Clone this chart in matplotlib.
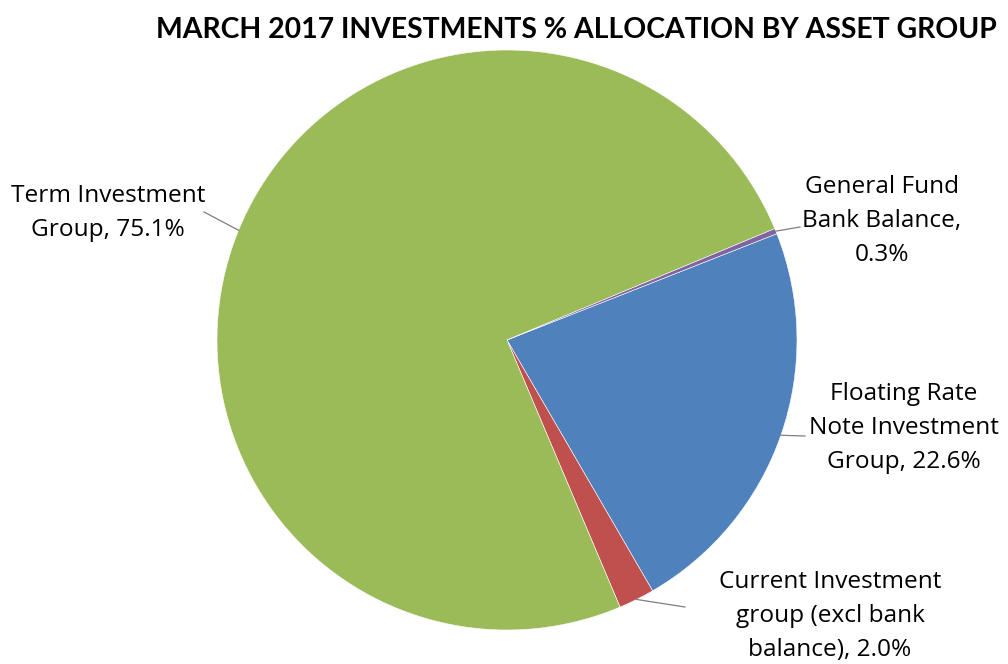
import numpy as np
import matplotlib.pyplot as plt

plt.rcParams['font.family'] = ['Open Sans', 'DejaVu Sans']

# slice order runs clockwise from the start angle
labels = ["Floating Rate\nNote Investment\nGroup, 22.6%",
          "Current Investment\ngroup (excl bank\nbalance), 2.0%",
          "Term Investment\nGroup, 75.1%",
          "General Fund\nBank Balance,\n0.3%"]
shares = [22.6, 2.0, 75.1, 0.3]
colors = ["#4F81BD", "#C0504D", "#9BBB59", "#8064A2"]

# label centres and leader-line ends (figure pixels, y measured from the top)
label_xy = [(904, 428), (830, 616), (108, 213), (882, 221)]
leader_end = [(805, 436), (685, 607), (204, 212), (800, 227)]

W, H = 1008, 664
cx, cy, R = 507, 340, 290
start = 21.5

fig = plt.figure(figsize=(W / 100, H / 100), dpi=100)
ax = fig.add_axes([0, 0, 1, 1])

wedges, _ = ax.pie(shares, colors=colors, startangle=start, counterclock=False,
                   radius=R, center=(cx, H - cy),
                   wedgeprops=dict(edgecolor='white', linewidth=0.4))
ax.set_xlim(0, W)
ax.set_ylim(0, H)
ax.set_aspect('equal')
ax.axis('off')

for w, lab, (tx, ty), (ex, ey) in zip(wedges, labels, label_xy, leader_end):
    mid = np.deg2rad((w.theta1 + w.theta2) / 2)
    px = cx + R * np.cos(mid)
    py = (H - cy) + R * np.sin(mid)
    ax.plot([px, ex], [py, H - ey], color='#7f7f7f', linewidth=0.9)
    ax.text(tx, H - ty, lab, ha='center', va='center', fontsize=17.6,
            linespacing=1.55, color='black')

ax.text(576, H - 30, "MARCH 2017 INVESTMENTS % ALLOCATION BY ASSET GROUP",
        ha='center', va='center', fontsize=20.4, fontweight='bold',
        family=['Lato', 'DejaVu Sans'])

fig.savefig("out.png", dpi=100)
